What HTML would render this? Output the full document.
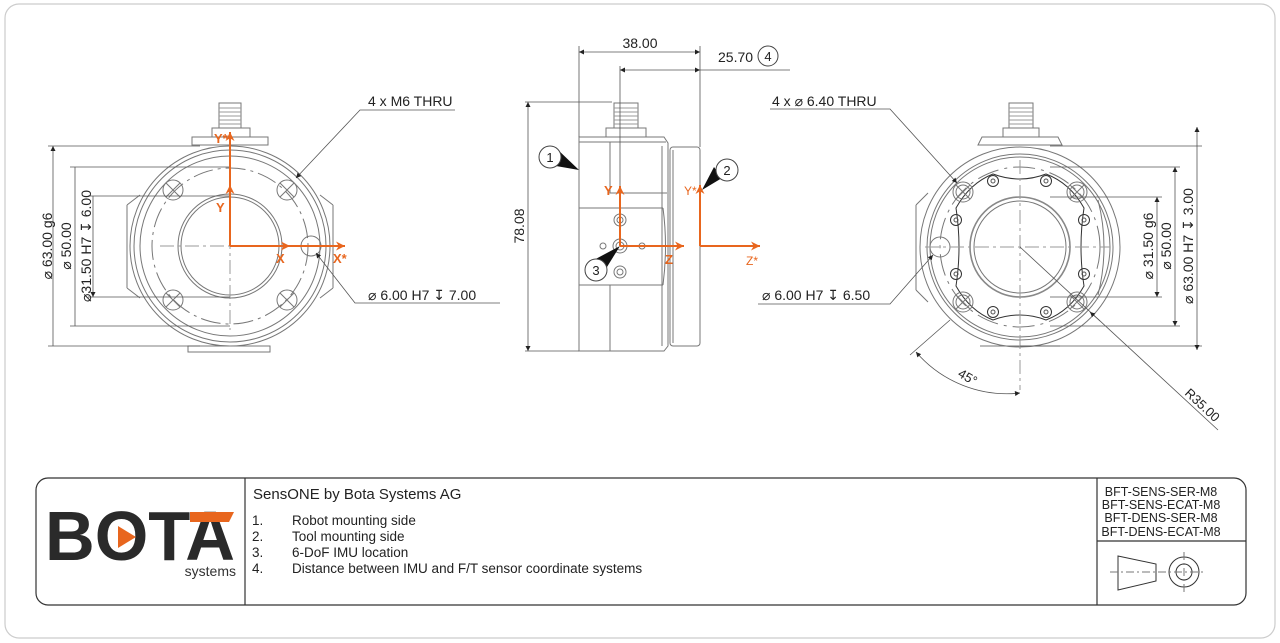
<!DOCTYPE html>
<html><head><meta charset="utf-8"><style>
html,body{margin:0;padding:0;background:#fff;}
svg{display:block;}
text{font-family:"Liberation Sans",sans-serif;fill:#222;}
</style></head><body>
<svg width="1280" height="643" viewBox="0 0 1280 643" xmlns="http://www.w3.org/2000/svg">
<defs>
<marker id="a" viewBox="0 0 10 10" refX="10" refY="5" markerWidth="9" markerHeight="5" orient="auto-start-reverse" markerUnits="userSpaceOnUse"><path d="M0,0L10,5L0,10z" fill="#222"/></marker>
<marker id="o" viewBox="0 0 10 10" refX="10" refY="5" markerWidth="12" markerHeight="9" orient="auto" markerUnits="userSpaceOnUse"><path d="M0,0L10,5L0,10L3,5z" fill="#e8661e"/></marker>
</defs>
<rect x="5" y="4" width="1270" height="634" rx="14" fill="none" stroke="#ccc" stroke-width="1.2"/>

<!-- ================= LEFT VIEW ================= -->
<g fill="none" stroke="#777" stroke-width="1">
<rect x="219" y="103" width="22" height="25"/>
<path d="M219,108h22M219,112h22M219,116h22M219,120h22M219,124h22" stroke="#999"/>
<rect x="212" y="128" width="38" height="9"/>
<rect x="192" y="137" width="76" height="8"/>
<rect x="188" y="346" width="82" height="6"/>
<circle cx="230" cy="246" r="100"/>
<circle cx="230" cy="246" r="96"/>
<circle cx="230" cy="246" r="90"/>
<path d="M127,205V288M333,205V288M127,205L140,195M127,288L140,298M333,205L320,195M333,288L320,298"/>
<circle cx="230" cy="246" r="78" stroke-dasharray="20 5 3 5"/>
<circle cx="230" cy="246" r="52"/>
<circle cx="230" cy="246" r="49"/>
<g><circle cx="173" cy="190" r="10"/><path d="M166,183l14,14M180,183l-14,14"/>
<circle cx="287" cy="190" r="10"/><path d="M280,183l14,14M294,183l-14,14"/>
<circle cx="173" cy="300" r="10"/><path d="M166,293l14,14M180,293l-14,14"/>
<circle cx="287" cy="300" r="10"/><path d="M280,293l14,14M294,293l-14,14"/></g>
<circle cx="311" cy="246" r="10"/>
<path d="M160,246H300M230,160V330" stroke-dasharray="14 4 3 4" stroke="#999"/>
</g>
<g stroke="#555" stroke-width="0.8" fill="none">
<path d="M48,146H200M70,167H230M88,196H230M88,297H230M70,326H230M48,346H200"/>
<path d="M53,146V346M75,167V326M93,196V297" marker-start="url(#a)" marker-end="url(#a)"/>
<path d="M455,110H360L296,178" marker-end="url(#a)"/>
<path d="M500,303H355L316,253" marker-end="url(#a)"/>
</g>
<text transform="translate(52,246) rotate(-90)" font-size="14" text-anchor="middle">⌀ 63.00 g6</text>
<text transform="translate(71,246) rotate(-90)" font-size="14" text-anchor="middle" fill="#444">⌀ 50.00</text>
<text transform="translate(91,246) rotate(-90)" font-size="14" text-anchor="middle">⌀31.50 H7 ↧ 6.00</text>
<text x="368" y="106" font-size="14">4 x M6  THRU</text>
<text x="368" y="300" font-size="14">⌀  6.00 H7 ↧  7.00</text>
<g stroke="#e8661e" stroke-width="2" fill="none">
<path d="M230,246V132" marker-end="url(#o)"/>
<path d="M230,246V185" marker-end="url(#o)"/>
<path d="M230,246H290" marker-end="url(#o)"/>
<path d="M290,246H345" marker-end="url(#o)"/>
</g>
<g font-size="13" font-weight="bold">
<text x="214" y="143" style="fill:#e8661e">Y*</text>
<text x="216" y="212" style="fill:#e8661e">Y</text>
<text x="276" y="263" style="fill:#e8661e">X</text>
<text x="333" y="263" style="fill:#e8661e">X*</text>
</g>

<!-- ================= SIDE VIEW ================= -->
<g fill="none" stroke="#777" stroke-width="1">
<rect x="614" y="103" width="24" height="25"/>
<path d="M614,108h24M614,112h24M614,116h24M614,120h24M614,124h24" stroke="#999"/>
<rect x="606" y="128" width="40" height="9"/>
<path d="M579,137H664L668,143V346L664,351H579Z"/>
<path d="M579,142H666"/>
<path d="M610,142V193H667M579,208H663M579,285H663M610,285V351"/>
<path d="M663,208Q668,246 663,285"/>
<path d="M662,146V346"/>
<rect x="670" y="147" width="30" height="199" rx="3"/>
<path d="M673,150V343"/>
<circle cx="620" cy="220" r="6"/><circle cx="620" cy="220" r="3"/>
<circle cx="620" cy="246" r="7"/><circle cx="620" cy="246" r="4"/>
<circle cx="620" cy="272" r="6"/><circle cx="620" cy="272" r="3"/>
<circle cx="603" cy="246" r="3"/><circle cx="642" cy="246" r="3"/>
</g>
<g stroke="#555" stroke-width="0.8" fill="none">
<path d="M579,46V137M700,46V147M620,66V190M525,102H612M525,351H579"/>
<path d="M579,52H700" marker-start="url(#a)" marker-end="url(#a)"/>
<path d="M620,70H700" marker-start="url(#a)" marker-end="url(#a)"/>
<path d="M700,70H790"/>
<path d="M528,102V351" marker-start="url(#a)" marker-end="url(#a)"/>
</g>
<text x="640" y="48" font-size="14" text-anchor="middle">38.00</text>
<text x="718" y="62" font-size="14">25.70</text>
<circle cx="768" cy="56" r="10" fill="none" stroke="#444"/>
<text x="768" y="61" font-size="13" text-anchor="middle">4</text>
<text transform="translate(524,226) rotate(-90)" font-size="14" text-anchor="middle">78.08</text>
<g fill="#111">
<path d="M556,148L579,170L556,166Z"/>
<path d="M722,178L702,190L714,167Z"/>
<path d="M590,262L620,246L602,275Z"/>
</g>
<g fill="#fff" stroke="#444">
<circle cx="550" cy="157" r="11"/><circle cx="727" cy="170" r="11"/><circle cx="596" cy="270" r="11"/>
</g>
<text x="550" y="162" font-size="13" text-anchor="middle">1</text>
<text x="727" y="175" font-size="13" text-anchor="middle">2</text>
<text x="596" y="275" font-size="13" text-anchor="middle">3</text>
<g stroke="#e8661e" stroke-width="2" fill="none">
<path d="M620,246V186" marker-end="url(#o)"/>
<path d="M620,246H684" marker-end="url(#o)"/>
<path d="M700,246V185" marker-end="url(#o)"/>
<path d="M700,246H760" marker-end="url(#o)"/>
</g>
<text x="604" y="195" font-size="13" font-weight="bold" style="fill:#e8661e">Y</text>
<text x="665" y="264" font-size="13" font-weight="bold" style="fill:#e8661e">Z</text>
<text x="684" y="195" font-size="12" style="fill:#e8661e">Y*</text>
<text x="746" y="265" font-size="12" style="fill:#e8661e">Z*</text>

<!-- ================= RIGHT VIEW ================= -->
<g fill="none" stroke="#777" stroke-width="1">
<rect x="1009" y="103" width="24" height="25"/>
<path d="M1009,108h24M1009,112h24M1009,116h24M1009,120h24M1009,124h24" stroke="#999"/>
<rect x="1003" y="128" width="36" height="9"/>
<path d="M982,137H1058L1062,145H978Z"/>
<circle cx="1020" cy="247" r="100"/>
<circle cx="1020" cy="247" r="93"/>
<circle cx="1020" cy="247" r="90"/>
<path d="M916,205V290M916,205L928,193M916,290L928,302M980,346H1060"/>
<path d="M1098,200Q1110,247 1098,295"/>
<circle cx="1020" cy="247" r="80" stroke-dasharray="22 6 3 6"/>
<circle cx="1020" cy="247" r="50" stroke="#888" stroke-width="1.6"/>
<circle cx="1020" cy="247" r="46"/>
<path d="M993,174Q1020,184 1046,174Q1070,183 1084,208Q1078,247 1084,286Q1070,311 1046,320Q1020,310 993,320Q970,311 956,286Q962,247 956,208Q970,183 993,174Z" stroke="#333"/>
<g stroke="#333"><circle cx="993" cy="181" r="5.5"/><circle cx="1046" cy="181" r="5.5"/><circle cx="956" cy="220" r="5.5"/><circle cx="1084" cy="220" r="5.5"/><circle cx="956" cy="274" r="5.5"/><circle cx="1084" cy="274" r="5.5"/><circle cx="993" cy="312" r="5.5"/><circle cx="1046" cy="312" r="5.5"/></g>
<g stroke="#555"><circle cx="993" cy="181" r="2"/><circle cx="1046" cy="181" r="2"/><circle cx="956" cy="220" r="2"/><circle cx="1084" cy="220" r="2"/><circle cx="956" cy="274" r="2"/><circle cx="1084" cy="274" r="2"/><circle cx="993" cy="312" r="2"/><circle cx="1046" cy="312" r="2"/></g>
<circle cx="963" cy="192" r="10"/><path d="M956,185l14,14M970,185l-14,14"/><circle cx="963" cy="192" r="7"/>
<circle cx="1077" cy="192" r="10"/><path d="M1070,185l14,14M1084,185l-14,14"/><circle cx="1077" cy="192" r="7"/>
<circle cx="963" cy="302" r="10"/><path d="M956,295l14,14M970,295l-14,14"/><circle cx="963" cy="302" r="7"/>
<circle cx="1077" cy="302" r="10"/><path d="M1070,295l14,14M1084,295l-14,14"/><circle cx="1077" cy="302" r="7"/>
<circle cx="940" cy="247" r="10"/>
<path d="M925,247H1110M1020,160V390" stroke-dasharray="14 4 3 4" stroke="#999"/>
</g>
<g stroke="#555" stroke-width="0.8" fill="none">
<path d="M1050,146H1202M1050,167H1180M1050,197H1162M1050,297H1162M1050,326H1180M1020,346H1202"/>
<path d="M1197,127V350" marker-start="url(#a)" marker-end="url(#a)"/>
<path d="M1175,167V326" marker-start="url(#a)" marker-end="url(#a)"/>
<path d="M1157,197V297" marker-start="url(#a)" marker-end="url(#a)"/>
<path d="M770,109H890L957,183" marker-end="url(#a)"/>
<path d="M758,304H890L933,255" marker-end="url(#a)"/>
<path d="M1020,247L1218,430"/>
<path d="M1090,312L1100,321" marker-start="url(#a)"/>
<path d="M950,320L910,355"/>
<path d="M916,352A120,120 0 0 0 1020,393" marker-start="url(#a)" marker-end="url(#a)"/>
</g>
<text transform="translate(1193,246) rotate(-90)" font-size="14" text-anchor="middle">⌀ 63.00 H7 ↧ 3.00</text>
<text transform="translate(1171,246) rotate(-90)" font-size="14" text-anchor="middle">⌀ 50.00</text>
<text transform="translate(1153,246) rotate(-90)" font-size="14" text-anchor="middle">⌀ 31.50 g6</text>
<text x="772" y="106" font-size="14">4 x  ⌀  6.40 THRU</text>
<text x="762" y="300" font-size="14">⌀  6.00 H7 ↧  6.50</text>
<text transform="translate(957,376) rotate(30)" font-size="13">45°</text>
<text transform="translate(1184,394) rotate(43)" font-size="13">R35.00</text>

<!-- ================= TITLE BLOCK ================= -->
<rect x="36" y="478" width="1210" height="127" rx="12" fill="none" stroke="#333" stroke-width="1.2"/>
<path d="M245,478V605M1097,478V605M1097,541H1246" stroke="#333" stroke-width="1.2"/>
<text x="45" y="560" font-size="70" font-weight="bold" textLength="190" lengthAdjust="spacingAndGlyphs" style="fill:#2a2a2a">BOTA</text>
<path d="M118,526L136,537L118,548Z" fill="#e8661e"/>
<path d="M190,512H234L229,522H190Z" fill="#e8661e"/>
<text x="236" y="576" font-size="14" text-anchor="end" style="fill:#333">systems</text>
<text x="253" y="499" font-size="15">SensONE by Bota Systems AG</text>
<g font-size="13.5" style="fill:#333">
<text x="252" y="525">1.</text><text x="292" y="525">Robot mounting side</text>
<text x="252" y="541">2.</text><text x="292" y="541">Tool mounting side</text>
<text x="252" y="557">3.</text><text x="292" y="557">6-DoF IMU location</text>
<text x="252" y="573">4.</text><text x="292" y="573">Distance between IMU and F/T sensor coordinate systems</text>
</g>
<g font-size="12.5" text-anchor="middle">
<text x="1161" y="496">BFT-SENS-SER-M8</text>
<text x="1161" y="509">BFT-SENS-ECAT-M8</text>
<text x="1161" y="522">BFT-DENS-SER-M8</text>
<text x="1161" y="536">BFT-DENS-ECAT-M8</text>
</g>
<g fill="none" stroke="#333">
<path d="M1118,556L1156,564V581L1118,590Z"/>
<circle cx="1184" cy="572" r="15"/><circle cx="1184" cy="572" r="8"/>
<path d="M1110,572H1205M1184,552V592" stroke-dasharray="8 3 2 3" stroke="#777"/>
</g>
</svg>
</body></html>
